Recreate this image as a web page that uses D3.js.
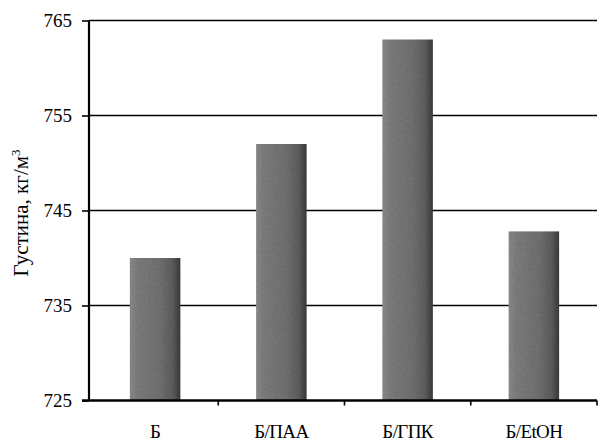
<!DOCTYPE html>
<html><head><meta charset="utf-8">
<script src="https://cdn.jsdelivr.net/npm/d3@7"></script>
<style>body{margin:0;background:#fff}svg{display:block}</style>
</head><body>
<script>
const categories = ["Б", "Б/ПАА", "Б/ГПК", "Б/EtOH"];
const values = [740, 752, 763, 742.8];
const yTicks = [725, 735, 745, 755, 765];
const yLabel = "Густина, кг/м";

(function () {
const W = 598, H = 444;
const mLeft = 89, mRight = 597, mTop = 20.5, mBottom = 400.5;
const serif = "'Liberation Serif', 'Times New Roman', serif";
const svg = d3.select("body").append("svg").attr("width", W).attr("height", H);

const defs = svg.append("defs");
const grad = defs.append("linearGradient").attr("id", "barGrad").attr("x1", 0).attr("x2", 1).attr("y1", 0).attr("y2", 0);
[[0, "#8c8c8c"], [0.15, "#7e7e7e"], [0.6, "#727272"], [0.85, "#5e5e5e"], [1, "#3a3a3a"]]
  .forEach(([o, c]) => grad.append("stop").attr("offset", o).attr("stop-color", c));
const filt = defs.append("filter").attr("id", "noise").attr("x", 0).attr("y", 0).attr("width", 1).attr("height", 1);
filt.append("feTurbulence").attr("type", "fractalNoise").attr("baseFrequency", 0.35).attr("numOctaves", 2).attr("seed", 3).attr("result", "t");
filt.append("feColorMatrix").attr("in", "t").attr("type", "matrix")
  .attr("values", "0 0 0 0 0.5  0 0 0 0 0.5  0 0 0 0 0.5  0 0 0 0.4 0").attr("result", "n");
filt.append("feComposite").attr("in", "n").attr("in2", "SourceGraphic").attr("operator", "in").attr("result", "nc");
filt.append("feBlend").attr("in", "nc").attr("in2", "SourceGraphic").attr("mode", "multiply");

const x = d3.scaleBand().domain(categories).range([92, 597]).paddingInner(0.6).paddingOuter(0.3);
const y = d3.scaleLinear().domain([725, 765]).range([mBottom, mTop]);

// gridlines
svg.append("g").selectAll("line").data(yTicks.slice(1)).join("line")
  .attr("x1", mLeft).attr("x2", mRight).attr("y1", d => y(d)).attr("y2", d => y(d))
  .attr("stroke", "#000").attr("stroke-width", 1.6);

// bars
svg.append("g").selectAll("rect").data(values).join("rect")
  .attr("x", (d, i) => x(categories[i]))
  .attr("width", x.bandwidth())
  .attr("y", d => y(d))
  .attr("height", d => y(725) - y(d))
  .attr("fill", "url(#barGrad)")
  .attr("filter", "url(#noise)");

// y axis
const yAxis = d3.axisLeft(y).tickValues(yTicks).tickSize(7).tickPadding(10).tickFormat(d3.format("d"));
const ga = svg.append("g").attr("transform", `translate(${mLeft},0)`).call(yAxis);
ga.select(".domain").attr("stroke-width", 2.2).attr("d", `M0,${mTop}V${mBottom}`);
ga.selectAll(".tick line").attr("stroke-width", 1.6);
ga.selectAll(".tick text").attr("font-family", serif).attr("font-size", 19).attr("fill", "#000");

// x axis
const half = x.step() * x.paddingInner() / 2;
const boundaries = categories.map(c => x(c) + x.bandwidth() + half);
const gx = svg.append("g");
gx.append("line").attr("x1", mLeft - 7).attr("x2", mRight).attr("y1", mBottom).attr("y2", mBottom).attr("stroke", "#000").attr("stroke-width", 2.6);
gx.selectAll("line.tk").data(boundaries).join("line").attr("class", "tk")
  .attr("x1", d => d).attr("x2", d => d).attr("y1", mBottom).attr("y2", mBottom + 5).attr("stroke", "#000").attr("stroke-width", 1.6);
gx.selectAll("text").data(categories).join("text")
  .attr("x", d => x(d) + x.bandwidth() / 2).attr("y", 438)
  .attr("text-anchor", "middle")
  .attr("font-family", serif).attr("font-size", 19).attr("letter-spacing", -0.6)
  .text(d => d);

// y label
const yl = svg.append("text").attr("transform", `translate(28,213) rotate(-90)`)
  .attr("text-anchor", "middle")
  .attr("font-family", serif).attr("font-size", 21);
yl.append("tspan").text(yLabel);
yl.append("tspan").attr("font-size", 13).attr("dy", -8).text("3");
})();
</script>
</body></html>
